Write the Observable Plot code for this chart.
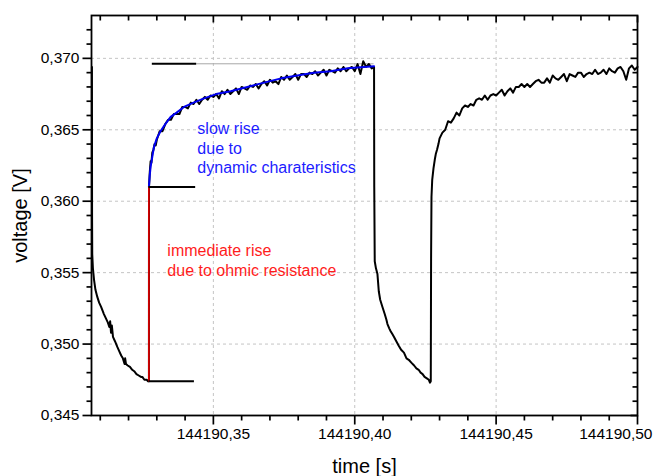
<!DOCTYPE html>
<html>
<head>
<meta charset="utf-8">
<script src="https://cdn.jsdelivr.net/npm/d3@7"></script>
<script src="https://cdn.jsdelivr.net/npm/@observablehq/plot@0.6"></script>
<style>
  html, body { margin: 0; padding: 0; background: #fff; }
  svg { display: block; }
</style>
</head>
<body>
<div id="chart"></div>
<script>
// ---------- data ----------
const timeBase = 144190;

// measured voltage trace (time offset in s after 144190, voltage in V)
const traceOffset = [
  // end of previous drop + relaxation
  0.30705, 0.30710, 0.30716, 0.3074, 0.3078, 0.3083, 0.30895, 0.3096, 0.3103, 0.31129,
  0.3120, 0.3127, 0.3132, 0.3135, 0.3138, 0.3141, 0.3145, 0.3152, 0.31603, 0.3167,
  0.3174, 0.3180, 0.3186, 0.3188, 0.3191, 0.3197, 0.3205, 0.3213, 0.3220, 0.3228,
  0.3236, 0.3244, 0.32488, 0.3256, 0.3264, 0.3269, 0.32721,
  // step up + slow rise
  0.32722, 0.32724, 0.3275, 0.3278, 0.3281, 0.3284, 0.3288, 0.3292, 0.3296,
  0.330, 0.331, 0.332, 0.333, 0.334, 0.335, 0.336, 0.337, 0.338, 0.339,
  0.340, 0.341, 0.342, 0.343, 0.344, 0.345, 0.346, 0.347, 0.348, 0.349,
  0.350, 0.351, 0.352, 0.353, 0.354, 0.355, 0.356, 0.357, 0.358, 0.359,
  0.360, 0.361, 0.362, 0.363, 0.364, 0.365, 0.366, 0.367, 0.368, 0.369,
  0.370, 0.371, 0.372, 0.373, 0.374, 0.375, 0.376, 0.377, 0.378, 0.379,
  0.380, 0.381, 0.382, 0.383, 0.384, 0.385, 0.386, 0.387, 0.388, 0.389,
  0.390, 0.391, 0.392, 0.393, 0.394, 0.395, 0.396, 0.397, 0.398, 0.399,
  0.400, 0.401, 0.402, 0.403, 0.404, 0.405, 0.406, 0.40683,
  // drop + relaxation
  0.40690, 0.40707, 0.4075, 0.40803, 0.4085, 0.4090, 0.4098, 0.4106, 0.4112, 0.41157,
  0.4122, 0.4127, 0.4133, 0.4139, 0.4147, 0.4155, 0.4164, 0.4174, 0.4183, 0.4191,
  0.4200, 0.4210, 0.4218, 0.4226, 0.4233, 0.4240, 0.4247, 0.4255, 0.4262, 0.4266,
  0.42689,
  // step up + slow rise
  0.42700, 0.42714, 0.4274, 0.42785, 0.4283, 0.42866, 0.4291, 0.4296,
  0.430, 0.431, 0.432, 0.433, 0.434, 0.435, 0.436, 0.437, 0.438, 0.439,
  0.440, 0.441, 0.442, 0.443, 0.444, 0.445, 0.446, 0.447, 0.448, 0.449,
  0.450, 0.451, 0.452, 0.453, 0.454, 0.455, 0.456, 0.457, 0.458, 0.459,
  0.460, 0.461, 0.462, 0.463, 0.464, 0.465, 0.466, 0.467, 0.468, 0.469,
  0.470, 0.471, 0.472, 0.473, 0.474, 0.475, 0.476, 0.477, 0.478, 0.479,
  0.480, 0.481, 0.482, 0.483, 0.484, 0.485, 0.486, 0.487, 0.488, 0.489,
  0.490, 0.491, 0.492, 0.493, 0.494, 0.495, 0.496, 0.497, 0.498, 0.499,
  0.500
];
const traceVoltage = [
  0.3694, 0.3590, 0.3563, 0.3553, 0.3545, 0.3538, 0.3533, 0.3529, 0.3526, 0.3521,
  0.3518, 0.3515, 0.3512, 0.3516, 0.3508, 0.3513, 0.3505, 0.3502, 0.3498, 0.3495,
  0.3492, 0.3490, 0.3486, 0.3490, 0.3486, 0.3485, 0.3484, 0.3482, 0.3481, 0.3479,
  0.3478, 0.3477, 0.3477, 0.3475, 0.3475, 0.3474, 0.3474,
  0.3560, 0.3610, 0.3620, 0.3628, 0.3627, 0.3634, 0.3636, 0.3640, 0.3639,
  0.3643, 0.3649, 0.3649, 0.3654, 0.3657, 0.3657, 0.3661, 0.3661, 0.3661, 0.3666,
  0.3666, 0.3665, 0.3669, 0.3668, 0.3671, 0.3668, 0.3671, 0.3673, 0.3671, 0.3674,
  0.3673, 0.3675, 0.3672, 0.3677, 0.3675, 0.3678, 0.3675, 0.3677, 0.3679, 0.3675,
  0.3680, 0.3679, 0.3678, 0.3681, 0.3680, 0.3682, 0.3679, 0.3682, 0.3684, 0.3681,
  0.3685, 0.3683, 0.3684, 0.3682, 0.3687, 0.3685, 0.3688, 0.3685, 0.3687, 0.3689,
  0.3685, 0.3689, 0.3689, 0.3687, 0.3690, 0.3689, 0.3691, 0.3688, 0.3690, 0.3692,
  0.3688, 0.3692, 0.3691, 0.3690, 0.3693, 0.3691, 0.3694, 0.3691, 0.3693, 0.3694,
  0.3691, 0.3696, 0.3689, 0.3698, 0.3694, 0.3696, 0.3693, 0.3694,
  0.3610, 0.3558, 0.3553, 0.3549, 0.3537, 0.3531, 0.3526, 0.3521, 0.3517, 0.3514,
  0.3511, 0.3509, 0.3507, 0.3505, 0.3502, 0.3499, 0.3496, 0.3494, 0.3490, 0.3489,
  0.3487, 0.3485, 0.3483, 0.3482, 0.3480, 0.3479, 0.3477, 0.3476, 0.3475, 0.3473,
  0.3474,
  0.3560, 0.3603, 0.3615, 0.3623, 0.3629, 0.3633, 0.3636, 0.3640,
  0.3644, 0.3648, 0.3650, 0.3656, 0.3655, 0.3658, 0.3662, 0.3660, 0.3665, 0.3667,
  0.3666, 0.3668, 0.3667, 0.3671, 0.3672, 0.3671, 0.3674, 0.3671, 0.3674, 0.3675,
  0.3674, 0.3676, 0.3678, 0.3674, 0.3677, 0.3679, 0.3676, 0.3680, 0.3680, 0.3682,
  0.3680, 0.3682, 0.3680, 0.3682, 0.3684, 0.3685, 0.3683, 0.3683, 0.3686, 0.3683,
  0.3688, 0.3686, 0.3685, 0.3687, 0.3689, 0.3684, 0.3689, 0.3688, 0.3687, 0.3690,
  0.3690, 0.3687, 0.3689, 0.3690, 0.3689, 0.3692, 0.3689, 0.3690, 0.3692, 0.3689,
  0.3693, 0.3691, 0.3690, 0.3693, 0.3694, 0.3691, 0.3685, 0.3693, 0.3695, 0.3692,
  0.3694
];

// fitted "slow rise" curve
const fitOffset = [
  0.32721, 0.3275, 0.3278, 0.3284, 0.3290, 0.3300, 0.3313, 0.3330, 0.3349, 0.3370,
  0.3396, 0.3430, 0.3467, 0.3510, 0.3561, 0.3620, 0.3679, 0.3740, 0.3797, 0.3855,
  0.3915, 0.3975, 0.4033, 0.40683
];
const fitVoltage = [
  0.3610, 0.3618, 0.3624, 0.3631, 0.3638, 0.3644, 0.3649, 0.3654, 0.3659, 0.3662,
  0.3666, 0.3669, 0.3672, 0.3675, 0.3677, 0.3680, 0.3683, 0.3686, 0.3688, 0.3690,
  0.3691, 0.3693, 0.3694, 0.36945
];

// "immediate rise" (ohmic) step
const ohmicOffset = [0.32721, 0.32721];
const ohmicVoltage = [0.3474, 0.3610];

// level markers
const markerLevel = [0.36962, 0.3610, 0.3474];
const markerStart = [0.32841, 0.32721, 0.32721];
const markerEnd   = [0.34409, 0.34374, 0.34330];
const guideStart = 0.34409, guideEnd = 0.40683;   // thin grey continuation of the top marker

// axes
const xDomain = [0.3069, 0.5];
const yDomain = [0.345, 0.373];
const xMajor = [0.35, 0.40, 0.45, 0.50];
const xTickLabels = ["144190,35", "144190,40", "144190,45", "144190,50"];
const xMinor = [0.31, 0.32, 0.33, 0.34, 0.36, 0.37, 0.38, 0.39, 0.41, 0.42, 0.43, 0.44, 0.46, 0.47, 0.48, 0.49];
const yMajor = [0.345, 0.350, 0.355, 0.360, 0.365, 0.370];
const yTickLabels = ["0,345", "0,350", "0,355", "0,360", "0,365", "0,370"];
const yMinor = [0.346, 0.347, 0.348, 0.349, 0.351, 0.352, 0.353, 0.354, 0.356, 0.357, 0.358, 0.359,
                0.361, 0.362, 0.363, 0.364, 0.366, 0.367, 0.368, 0.369, 0.371, 0.372];

// annotations
const annoText = ["slow rise\ndue to\ndynamic charateristics", "immediate rise\ndue to ohmic resistance"];
const annoOffset = [0.34434, 0.33372];
const annoVoltage = [0.36569, 0.35715];
const annoColor = ["#1c1cff", "#ff1c1c"];

// ---------- derived tables ----------
const W = 656, H = 476, ML = 91, MR = 19, MT = 15, MB = 61;
const FW = W - ML - MR, FH = H - MT - MB;
const T = o => timeBase + o;
const trace = traceOffset.map((o, i) => ({t: T(o), v: traceVoltage[i]}));
const fit = fitOffset.map((o, i) => ({t: T(o), v: fitVoltage[i]}));
const ohmic = ohmicOffset.map((o, i) => ({t: T(o), v: ohmicVoltage[i]}));
const markers = markerLevel.map((v, i) => ({v, t1: T(markerStart[i]), t2: T(markerEnd[i])}));
const annos = annoText.map((text, i) => ({text, t: T(annoOffset[i]), v: annoVoltage[i], c: annoColor[i]}));
const xMaj = xMajor.map(T), xMin = xMinor.map(T);
const xLabel = new Map(xMaj.map((d, i) => [d, xTickLabels[i]]));
const yLabel = new Map(yMajor.map((d, i) => [d, yTickLabels[i]]));
const [x0, x1] = xDomain.map(T);
const [y0, y1] = yDomain;
// pixel -> data unit helpers for tick lengths
const px = n => n * (x1 - x0) / FW;
const py = n => n * (y1 - y0) / FH;

// tick segments (each: from / to in data units)
const tickSegs = [
  ...xMaj.map(x => ({xa: x, ya: y0, xb: x, yb: y0 - py(9)})),   // bottom, outward
  ...xMin.map(x => ({xa: x, ya: y0, xb: x, yb: y0 - py(5)})),
  ...xMaj.map(x => ({xa: x, ya: y1, xb: x, yb: y1 - py(7)})),   // top, inward
  ...xMin.map(x => ({xa: x, ya: y1, xb: x, yb: y1 - py(5)})),
  ...yMajor.map(y => ({xa: x0, ya: y, xb: x0 - px(9), yb: y})), // left, outward
  ...yMinor.map(y => ({xa: x0, ya: y, xb: x0 - px(5), yb: y})),
  ...yMajor.map(y => ({xa: x1, ya: y, xb: x1 - px(7), yb: y})), // right, inward
  ...yMinor.map(y => ({xa: x1, ya: y, xb: x1 - px(5), yb: y}))
];

const chart = Plot.plot({
  width: W,
  height: H,
  marginLeft: ML,
  marginRight: MR,
  marginTop: MT,
  marginBottom: MB,
  style: {fontFamily: "'Liberation Sans', Arial, sans-serif", fontSize: "15.5px", color: "black", background: "white", overflow: "visible"},
  x: {domain: [x0, x1]},
  y: {domain: [y0, y1]},
  marks: [
    Plot.gridX(xMaj, {stroke: "#c4c4c4", strokeOpacity: 1, strokeDasharray: "3,3"}),
    Plot.gridY(yMajor, {stroke: "#c4c4c4", strokeOpacity: 1, strokeDasharray: "3,3"}),
    Plot.ruleY([markerLevel[0]], {x1: T(guideStart), x2: T(guideEnd), stroke: "#a8a8a8", strokeWidth: 1}),
    Plot.line(trace, {x: "t", y: "v", stroke: "black", strokeWidth: 2}),
    Plot.line(fit, {x: "t", y: "v", stroke: "#0000f0", strokeWidth: 2}),
    Plot.line(ohmic, {x: "t", y: "v", stroke: "#ee0000", strokeWidth: 1.6}),
    Plot.ruleY(markers, {y: "v", x1: "t1", x2: "t2", stroke: "black", strokeWidth: 2}),
    Plot.text(annos, {x: "t", y: "v", text: "text", fill: "c", textAnchor: "start", lineAnchor: "top", lineHeight: 1.23, fontSize: 16}),
    Plot.frame({stroke: "black", strokeWidth: 1.8}),
    // ticks
    Plot.link(tickSegs, {x1: "xa", y1: "ya", x2: "xb", y2: "yb", stroke: "black", strokeWidth: 1.7}),
    // tick labels
    Plot.axisX(xMaj.slice(0, 3), {anchor: "bottom", tickSize: 0, tickPadding: 12, tickFormat: d => xLabel.get(d), label: null, fontSize: 15.5}),
    Plot.axisX(xMaj.slice(3), {anchor: "bottom", tickSize: 0, tickPadding: 12, tickFormat: d => xLabel.get(d), label: null, fontSize: 15.5, textAnchor: "end", dx: 15}),
    Plot.axisY(yMajor, {anchor: "left", tickSize: 0, tickPadding: 12, tickFormat: d => yLabel.get(d), label: null, fontSize: 15.5}),
    // axis titles
    Plot.text(["voltage [V]"], {frameAnchor: "left", dx: -71, rotate: -90, textAnchor: "middle", lineAnchor: "middle", fontSize: 20, fill: "black"}),
    Plot.text(["time [s]"], {frameAnchor: "bottom", dy: 57, textAnchor: "middle", lineAnchor: "bottom", fontSize: 20, fill: "black"})
  ]
});
document.getElementById("chart").appendChild(chart);
</script>
</body>
</html>
